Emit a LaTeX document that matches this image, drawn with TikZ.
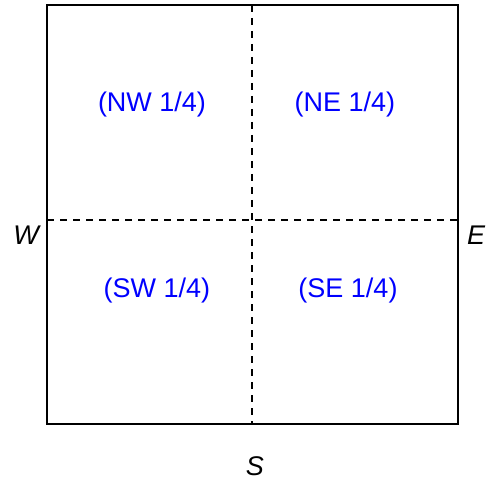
\documentclass[tikz,border=0pt]{standalone}
\usepackage{fontspec}
\setmainfont{Liberation Sans}
\begin{document}
\begin{tikzpicture}[x=1pt,y=1pt,
  quarter/.style={text=blue, font=\fontsize{27}{31}\selectfont},
  dir/.style={inner sep=0pt, font=\fontsize{27}{31}\selectfont\itshape},
  divider/.style={line width=1.6pt, dash pattern=on 7pt off 6pt}]
\useasboundingbox (0,0) rectangle (487,480);
\draw[line width=2pt] (47,56) rectangle (458,475);
\coordinate (top) at (252,475);
\coordinate (bot) at (252,56);
\coordinate (lft) at (47,260);
\coordinate (rgt) at (458,260);
\draw[divider] (top) -- (bot);
\draw[divider] (lft) -- (rgt);
\node[quarter] (nw) at (152,375) {(NW 1/4)};
\node[quarter] (ne) at (345,375) {(NE 1/4)};
\node[quarter] (sw) at (157,189) {(SW 1/4)};
\node[quarter] (se) at (348,189) {(SE 1/4)};
\node[dir] (w) at (26,245) {W};
\node[dir] (e) at (476,245) {E};
\node[dir] (s) at (255,14) {S};
\end{tikzpicture}
\end{document}
